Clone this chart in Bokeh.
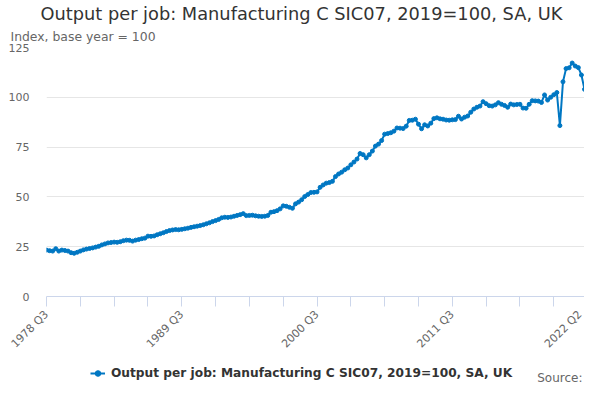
from math import pi
from bokeh.plotting import figure
from bokeh.layouts import column
from bokeh.models import Range1d, FixedTicker, Legend, LegendItem, Label, Title
from bokeh.embed import file_html
from bokeh.resources import INLINE

TITLE = "Output per job: Manufacturing C SIC07, 2019=100, SA, UK"
Y_TITLE = "Index, base year = 100"
SERIES_NAME = "Output per job: Manufacturing C SIC07, 2019=100, SA, UK"
SOURCE = "Source:"

start_year = 1978
start_quarter = 3

values = [
    23.3, 23.0, 22.8, 24.0, 22.8, 23.3, 23.1, 22.8, 22.0, 21.7,
    22.2, 22.8, 23.4, 23.8, 24.1, 24.4, 24.8, 25.2, 25.9, 26.4,
    26.9, 27.1, 27.3, 27.2, 27.5, 28.0, 28.3, 28.2, 27.8, 28.3,
    28.6, 29.0, 29.3, 30.3, 30.2, 30.4, 31.0, 31.5, 32.0, 32.6,
    33.1, 33.4, 33.6, 33.5, 33.7, 34.0, 34.3, 34.7, 35.0, 35.3,
    35.6, 36.0, 36.5, 37.0, 37.6, 38.1, 38.7, 39.5, 39.8, 39.7,
    39.9, 40.3, 40.7, 41.1, 41.6, 40.6, 40.7, 40.8, 40.5, 40.3,
    40.2, 40.3, 40.7, 42.3, 42.6, 43.1, 44.0, 45.5, 45.3, 44.8,
    44.3, 46.5, 47.4, 48.6, 50.2, 51.2, 52.2, 52.3, 52.5, 54.8,
    56.0, 56.9, 57.2, 57.8, 60.2, 61.5, 62.4, 63.6, 64.5, 66.1,
    67.5, 69.0, 71.8, 71.2, 69.6, 71.2, 73.0, 75.5, 76.5, 78.3,
    81.5, 81.8, 82.2, 83.0, 84.6, 84.5, 84.3, 85.5, 88.4, 88.5,
    89.0, 86.5, 84.2, 86.2, 85.6, 87.0, 89.3, 89.7, 89.2, 89.0,
    88.6, 88.5, 88.7, 88.8, 90.5, 89.1, 90.0, 90.6, 92.5, 94.1,
    95.0, 95.6, 97.8, 96.8, 95.8, 95.6, 96.2, 97.3, 96.5, 95.9,
    95.0, 96.6, 96.2, 96.4, 96.5, 94.6, 94.5, 96.5, 98.3, 98.2,
    98.1, 97.4, 101.2, 98.6, 100.0, 101.3, 102.4, 85.8, 107.8, 114.4,
    114.8, 117.2, 115.7, 114.9, 111.2, 104.0,
]

y_ticks = [0, 25, 50, 75, 100, 125]

periods = []
yr, q = start_year, start_quarter
for _ in values:
    periods.append(f"{yr} Q{q}")
    q += 1
    if q > 4:
        q = 1
        yr += 1

idx = list(range(len(values)))
n = len(values)
tick_pos = list(range(0, n, 11))
if tick_pos[-1] != n - 1:
    tick_pos.append(n - 1)
labelled = set(tick_pos[::4]) | {n - 1}

BLUE = "#0077c3"
GREY = "#666666"
DARK = "#333333"
FONT = "DejaVu Sans"
W = 584
LEFT = 46
H_MAIN, H_LEG = 358, 26

# ---- main chart
p = figure(width=W, height=H_MAIN, output_backend="svg", toolbar_location=None,
           x_range=Range1d(0, n - 1), y_range=Range1d(0, 125),
           min_border_left=LEFT, min_border_right=0, min_border_top=47, min_border_bottom=56)
p.title.visible = False
p.outline_line_color = None
p.background_fill_color = "white"
p.border_fill_color = "white"

r_line = p.line(idx, values, line_color=BLUE, line_width=2)
r_pts = p.scatter(idx, values, size=4, fill_color=BLUE, line_color=BLUE)

xa = p.xaxis[0]
xa.ticker = FixedTicker(ticks=tick_pos, minor_ticks=[])
xa.major_label_overrides = {t: (periods[t] if t in labelled else "") for t in tick_pos}
xa.major_label_orientation = pi / 4
xa.axis_line_color = "#ccd6eb"
xa.major_tick_line_color = "#ccd6eb"
xa.major_tick_out = 10
xa.major_tick_in = 0
xa.minor_tick_line_color = None
xa.major_label_text_color = GREY
xa.major_label_text_font = FONT
xa.major_label_text_font_size = "11px"
xa.major_label_standoff = 6

ya = p.yaxis[0]
ya.ticker = FixedTicker(ticks=y_ticks, minor_ticks=[])
ya.axis_line_color = None
ya.major_tick_line_color = None
ya.minor_tick_line_color = None
ya.major_tick_out = 0
ya.major_tick_in = 0
ya.major_label_standoff = 17
ya.major_label_text_color = GREY
ya.major_label_text_font = FONT
ya.major_label_text_font_size = "11px"

p.xgrid.grid_line_color = None
p.ygrid.grid_line_color = "#e6e6e6"

# titles above the frame (later-added sits further from the frame)
p.add_layout(Title(text=Y_TITLE, align="left", offset=-36, standoff=7,
                   text_font=FONT, text_font_size="12.4px", text_font_style="normal",
                   text_color=GREY), "above")
p.add_layout(Title(text=TITLE, align="left", offset=-6, standoff=0,
                   text_font=FONT, text_font_size="17.8px", text_font_style="normal",
                   text_color=DARK), "above")

# ---- legend + source strip (legend sample renderers sit outside the visible range)
p_leg = figure(width=W, height=H_LEG, output_backend="svg", toolbar_location=None,
               x_range=Range1d(LEFT, W), y_range=Range1d(0, H_LEG),
               x_axis_location=None, y_axis_location=None, min_border=0)
p_leg.title.visible = False
p_leg.grid.visible = False
p_leg.outline_line_color = None
p_leg.background_fill_color = "white"
p_leg.border_fill_color = "white"

leg_line = p_leg.line([-10, -5], [-10, -10], line_color=BLUE, line_width=2)
leg_pts = p_leg.scatter([-10], [-10], size=4, fill_color=BLUE, line_color=BLUE)
legend = Legend(items=[LegendItem(label=SERIES_NAME, renderers=[leg_line, leg_pts])],
                location=(90 - LEFT, 4), orientation="horizontal",
                label_text_font=FONT, label_text_font_size="12.2px",
                label_text_font_style="bold", label_text_color=DARK,
                glyph_width=15, glyph_height=14, label_height=15, label_standoff=6,
                padding=0, margin=0, spacing=0, border_line_color=None,
                background_fill_color=None)
p_leg.add_layout(legend, "center")
p_leg.add_layout(Label(x=582, y=7, text=SOURCE, text_align="right",
                       text_baseline="middle", text_font=FONT, text_font_size="12px",
                       text_color=GREY))

layout = column(p, p_leg, spacing=0)
open("out.html", "w").write(file_html(layout, INLINE))
